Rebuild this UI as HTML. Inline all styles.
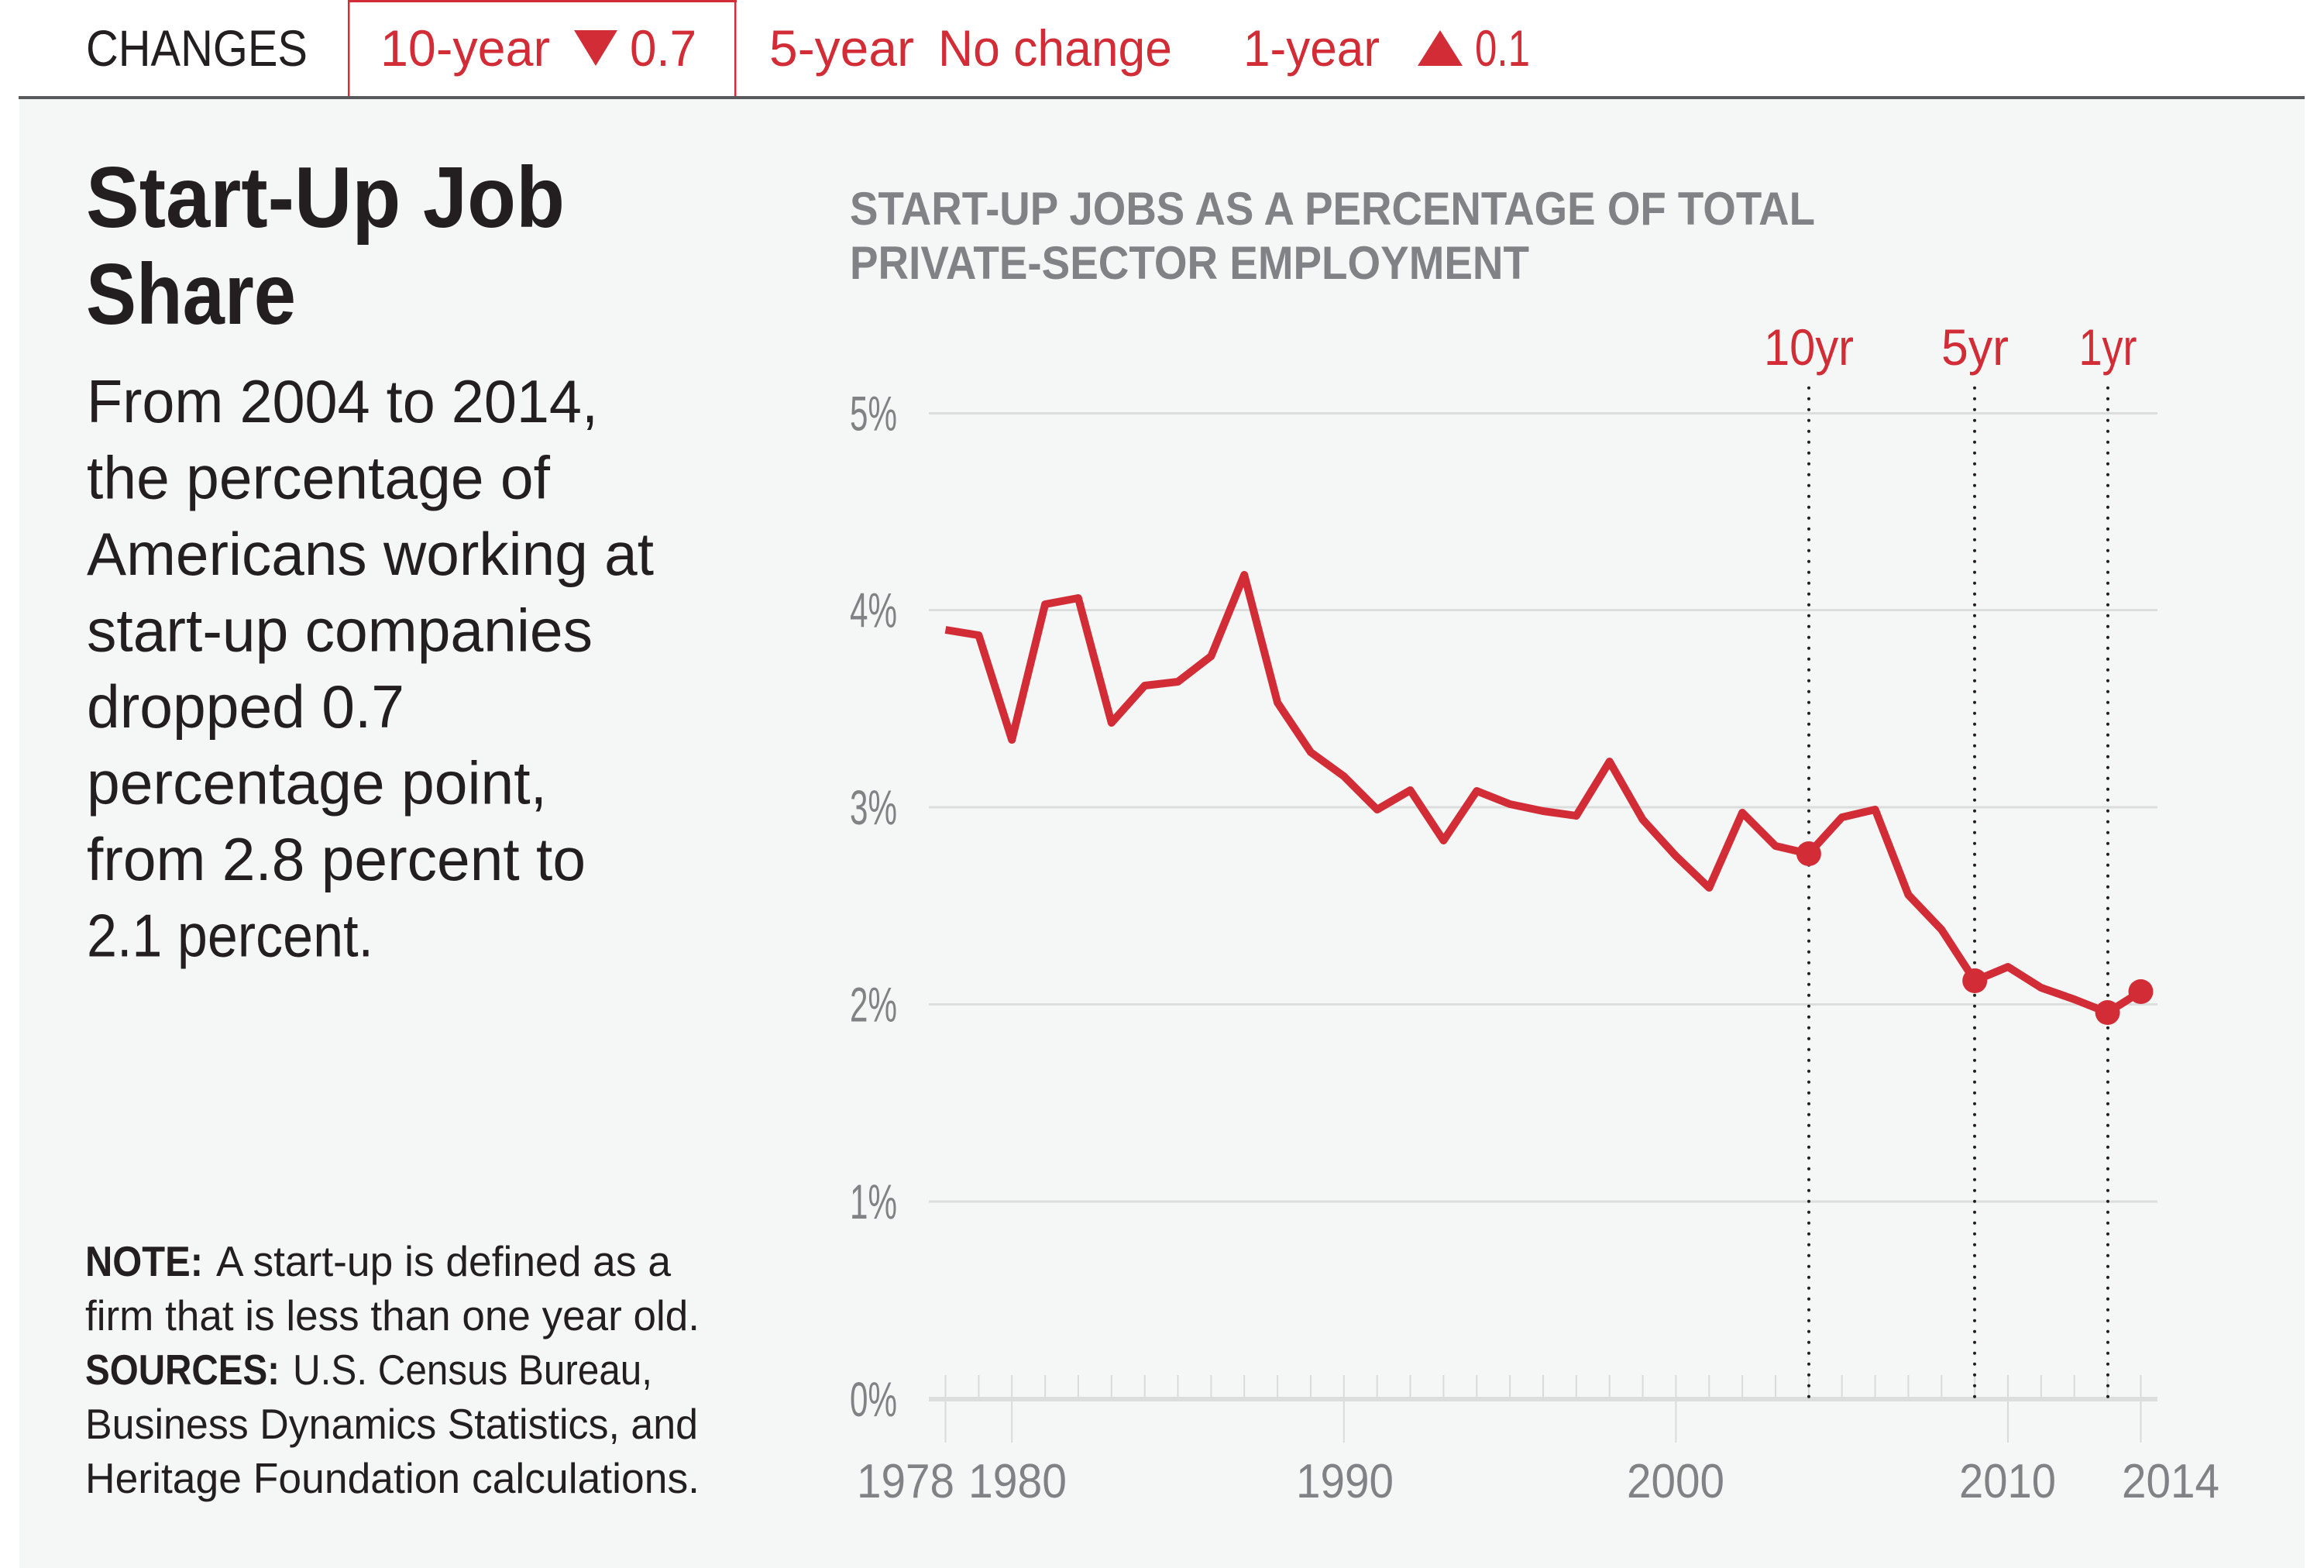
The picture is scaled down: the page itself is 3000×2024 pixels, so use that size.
<!DOCTYPE html>
<html>
<head>
<meta charset="utf-8">
<style>
html,body{margin:0;padding:0;background:#fff;}
svg{display:block;}
text{font-family:"Liberation Sans",sans-serif;}
</style>
</head>
<body>
<svg width="3000" height="2024" viewBox="0 0 3000 2024" xmlns="http://www.w3.org/2000/svg">
  <rect x="0" y="0" width="3000" height="2024" fill="#ffffff"/>
  <!-- panel -->
  <rect x="25" y="127" width="2950" height="1897" fill="#f5f7f6"/>

  <!-- top bar -->
  <g font-size="66">
    <text x="111" y="85" fill="#231f20" textLength="286" lengthAdjust="spacingAndGlyphs">CHANGES</text>
    <text x="491" y="85" fill="#d22d37" textLength="219" lengthAdjust="spacingAndGlyphs">10-year</text>
    <polygon points="741,39 797,39 769,85" fill="#d22d37"/>
    <text x="813" y="85" fill="#d22d37" textLength="86" lengthAdjust="spacingAndGlyphs">0.7</text>
    <text x="993" y="85" fill="#d22d37" textLength="187" lengthAdjust="spacingAndGlyphs">5-year</text>
    <text x="1211" y="85" fill="#d22d37" textLength="302" lengthAdjust="spacingAndGlyphs">No change</text>
    <text x="1605" y="85" fill="#d22d37" textLength="176" lengthAdjust="spacingAndGlyphs">1-year</text>
    <polygon points="1830,85 1888,85 1859,39" fill="#d22d37"/>
    <text x="1904" y="85" fill="#d22d37" textLength="71" lengthAdjust="spacingAndGlyphs">0.1</text>
  </g>
  <rect x="450.25" y="1.25" width="499" height="124" fill="none" stroke="#d22d37" stroke-width="2.5"/>
  <rect x="449" y="0" width="502" height="3" fill="#d22d37"/>
  <rect x="24" y="124" width="2951" height="4" fill="#58595b"/>

  <!-- left title -->
  <g fill="#231f20">
    <text x="111" y="293" font-size="111" font-weight="bold" textLength="618" lengthAdjust="spacingAndGlyphs">Start-Up Job</text>
    <text x="111" y="418" font-size="111" font-weight="bold" textLength="271" lengthAdjust="spacingAndGlyphs">Share</text>
  </g>
  <g fill="#231f20" font-size="78">
    <text x="112" y="545" textLength="660" lengthAdjust="spacingAndGlyphs">From 2004 to 2014,</text>
    <text x="112" y="643.5" textLength="598" lengthAdjust="spacingAndGlyphs">the percentage of</text>
    <text x="112" y="742" textLength="732" lengthAdjust="spacingAndGlyphs">Americans working at</text>
    <text x="112" y="840.5" textLength="653" lengthAdjust="spacingAndGlyphs">start-up companies</text>
    <text x="112" y="939" textLength="410" lengthAdjust="spacingAndGlyphs">dropped 0.7</text>
    <text x="112" y="1037.5" textLength="594" lengthAdjust="spacingAndGlyphs">percentage point,</text>
    <text x="112" y="1136" textLength="644" lengthAdjust="spacingAndGlyphs">from 2.8 percent to</text>
    <text x="112" y="1234.5" textLength="370" lengthAdjust="spacingAndGlyphs">2.1 percent.</text>
  </g>

  <!-- note -->
  <g fill="#231f20" font-size="55">
    <text x="110" y="1647" font-weight="bold" textLength="152" lengthAdjust="spacingAndGlyphs">NOTE:</text>
    <text x="279" y="1647" textLength="587" lengthAdjust="spacingAndGlyphs">A start-up is defined as a</text>
    <text x="110" y="1717" textLength="793" lengthAdjust="spacingAndGlyphs">firm that is less than one year old.</text>
    <text x="110" y="1787" font-weight="bold" textLength="251" lengthAdjust="spacingAndGlyphs">SOURCES:</text>
    <text x="378" y="1787" textLength="464" lengthAdjust="spacingAndGlyphs">U.S. Census Bureau,</text>
    <text x="110" y="1857" textLength="791" lengthAdjust="spacingAndGlyphs">Business Dynamics Statistics, and</text>
    <text x="110" y="1927" textLength="793" lengthAdjust="spacingAndGlyphs">Heritage Foundation calculations.</text>
  </g>

  <!-- chart title -->
  <g fill="#808285" font-size="60" font-weight="bold">
    <text x="1097" y="290" textLength="1246" lengthAdjust="spacingAndGlyphs">START-UP JOBS AS A PERCENTAGE OF TOTAL</text>
    <text x="1097" y="360" textLength="877" lengthAdjust="spacingAndGlyphs">PRIVATE-SECTOR EMPLOYMENT</text>
  </g>

  <!-- gridlines -->
  <g stroke="#dcdddd" stroke-width="3">
    <line x1="1199" y1="533.5" x2="2785" y2="533.5"/>
    <line x1="1199" y1="787.5" x2="2785" y2="787.5"/>
    <line x1="1199" y1="1042" x2="2785" y2="1042"/>
    <line x1="1199" y1="1296.5" x2="2785" y2="1296.5"/>
    <line x1="1199" y1="1551" x2="2785" y2="1551"/>
  </g>
  <!-- y labels -->
  <g fill="#808285" font-size="63">
    <text x="1097" y="555.5" textLength="61" lengthAdjust="spacingAndGlyphs">5%</text>
    <text x="1097" y="809.5" textLength="61" lengthAdjust="spacingAndGlyphs">4%</text>
    <text x="1097" y="1064" textLength="61" lengthAdjust="spacingAndGlyphs">3%</text>
    <text x="1097" y="1318.5" textLength="61" lengthAdjust="spacingAndGlyphs">2%</text>
    <text x="1097" y="1573" textLength="61" lengthAdjust="spacingAndGlyphs">1%</text>
    <text x="1097" y="1828" textLength="61" lengthAdjust="spacingAndGlyphs">0%</text>
  </g>

  <!-- ticks -->
  <g stroke="#d9dada" stroke-width="2">
    <line x1="1220.5" y1="1775" x2="1220.5" y2="1862"/>
    <line x1="1263.4" y1="1775" x2="1263.4" y2="1806"/>
    <line x1="1306.2" y1="1775" x2="1306.2" y2="1862"/>
    <line x1="1349.1" y1="1775" x2="1349.1" y2="1806"/>
    <line x1="1391.9" y1="1775" x2="1391.9" y2="1806"/>
    <line x1="1434.8" y1="1775" x2="1434.8" y2="1806"/>
    <line x1="1477.7" y1="1775" x2="1477.7" y2="1806"/>
    <line x1="1520.5" y1="1775" x2="1520.5" y2="1806"/>
    <line x1="1563.4" y1="1775" x2="1563.4" y2="1806"/>
    <line x1="1606.2" y1="1775" x2="1606.2" y2="1806"/>
    <line x1="1649.1" y1="1775" x2="1649.1" y2="1806"/>
    <line x1="1692.0" y1="1775" x2="1692.0" y2="1806"/>
    <line x1="1734.8" y1="1775" x2="1734.8" y2="1862"/>
    <line x1="1777.7" y1="1775" x2="1777.7" y2="1806"/>
    <line x1="1820.5" y1="1775" x2="1820.5" y2="1806"/>
    <line x1="1863.4" y1="1775" x2="1863.4" y2="1806"/>
    <line x1="1906.3" y1="1775" x2="1906.3" y2="1806"/>
    <line x1="1949.1" y1="1775" x2="1949.1" y2="1806"/>
    <line x1="1992.0" y1="1775" x2="1992.0" y2="1806"/>
    <line x1="2034.8" y1="1775" x2="2034.8" y2="1806"/>
    <line x1="2077.7" y1="1775" x2="2077.7" y2="1806"/>
    <line x1="2120.6" y1="1775" x2="2120.6" y2="1806"/>
    <line x1="2163.4" y1="1775" x2="2163.4" y2="1862"/>
    <line x1="2206.3" y1="1775" x2="2206.3" y2="1806"/>
    <line x1="2249.1" y1="1775" x2="2249.1" y2="1806"/>
    <line x1="2292.0" y1="1775" x2="2292.0" y2="1806"/>
    <line x1="2334.9" y1="1775" x2="2334.9" y2="1806"/>
    <line x1="2377.7" y1="1775" x2="2377.7" y2="1806"/>
    <line x1="2420.6" y1="1775" x2="2420.6" y2="1806"/>
    <line x1="2463.4" y1="1775" x2="2463.4" y2="1806"/>
    <line x1="2506.3" y1="1775" x2="2506.3" y2="1806"/>
    <line x1="2549.2" y1="1775" x2="2549.2" y2="1806"/>
    <line x1="2592.0" y1="1775" x2="2592.0" y2="1862"/>
    <line x1="2634.9" y1="1775" x2="2634.9" y2="1806"/>
    <line x1="2677.7" y1="1775" x2="2677.7" y2="1806"/>
    <line x1="2720.6" y1="1775" x2="2720.6" y2="1806"/>
    <line x1="2763.5" y1="1775" x2="2763.5" y2="1862"/>
  </g>
  <!-- axis line -->
  <rect x="1199" y="1803" width="1586" height="6" fill="#dcdddd"/>

  <!-- x labels -->
  <g fill="#808285" font-size="62">
    <text x="1106" y="1933" textLength="126" lengthAdjust="spacingAndGlyphs">1978</text>
    <text x="1250" y="1933" textLength="127" lengthAdjust="spacingAndGlyphs">1980</text>
    <text x="1673" y="1933" textLength="126" lengthAdjust="spacingAndGlyphs">1990</text>
    <text x="2100" y="1933" textLength="126" lengthAdjust="spacingAndGlyphs">2000</text>
    <text x="2529" y="1933" textLength="125" lengthAdjust="spacingAndGlyphs">2010</text>
    <text x="2739" y="1933" textLength="126" lengthAdjust="spacingAndGlyphs">2014</text>
  </g>

  <!-- dotted reference lines -->
  <g stroke="#231f20" stroke-width="4" stroke-linecap="round" stroke-dasharray="0 14">
    <line x1="2335" y1="500.7" x2="2335" y2="1808"/>
    <line x1="2549" y1="500.7" x2="2549" y2="1808"/>
    <line x1="2721" y1="500.7" x2="2721" y2="1808"/>
  </g>
  <g fill="#d22d37" font-size="66" text-anchor="middle">
    <text x="2335" y="471" textLength="116" lengthAdjust="spacingAndGlyphs">10yr</text>
    <text x="2549.5" y="471" textLength="87" lengthAdjust="spacingAndGlyphs">5yr</text>
    <text x="2721" y="471" textLength="75" lengthAdjust="spacingAndGlyphs">1yr</text>
  </g>

  <!-- data line -->
  <polyline fill="none" stroke="#d22d37" stroke-width="10" stroke-linejoin="round"
    points="1220.5,813 1263.4,820 1306.2,955 1349.1,780 1391.9,772 1434.8,933 1477.7,885 1520.5,880 1563.4,847 1606.2,742 1649.1,907 1692.0,971 1734.8,1002 1777.7,1045 1820.5,1020 1863.4,1085 1906.3,1021 1949.1,1038 1992.0,1047 2034.8,1053 2077.7,983 2120.6,1058 2163.4,1105 2206.3,1146 2249.1,1049 2292.0,1092 2334.9,1102 2377.7,1055 2420.6,1045 2463.4,1155 2506.3,1200 2549.2,1266 2592.0,1248 2634.9,1275 2677.7,1290 2720.6,1307 2763.5,1280"/>
  <g fill="#d22d37">
    <circle cx="2334.9" cy="1102" r="16"/>
    <circle cx="2549.2" cy="1266" r="16"/>
    <circle cx="2720.6" cy="1307" r="16"/>
    <circle cx="2763.5" cy="1280" r="16"/>
  </g>
</svg>
</body>
</html>
